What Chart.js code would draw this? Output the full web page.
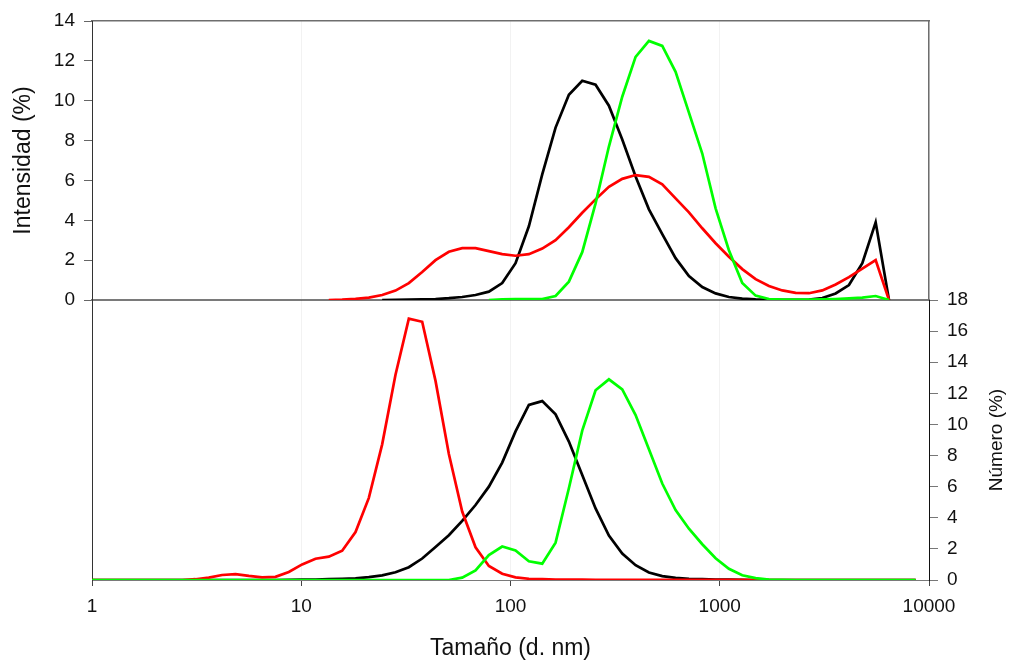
<!DOCTYPE html>
<html>
<head>
<meta charset="utf-8">
<script src="https://cdn.jsdelivr.net/npm/chart.js@4.4.1/dist/chart.umd.min.js"></script>
<style>
  html, body { margin: 0; padding: 0; background: #fff; }
  .panel { position: absolute; left: 0; top: 0; width: 1010px; height: 660px; }
</style>
</head>
<body>
<div class="panel"><canvas id="chart-intensidad"></canvas></div>
<div class="panel"><canvas id="chart-numero"></canvas></div>
<script>
// Clases de tamaño (d. nm) del equipo, escala logarítmica
const tamanos = [
  0.9649, 1.117, 1.294, 1.499, 1.736, 2.010, 2.328, 2.696, 3.122, 3.615, 4.187, 4.849, 5.615, 6.503, 7.531, 8.721,
  10.10, 11.70, 13.54, 15.69, 18.17, 21.04, 24.36, 28.21, 32.67, 37.84, 43.82, 50.75, 58.77, 68.06, 78.82, 91.28,
  105.7, 122.4, 141.8, 164.2, 190.1, 220.2, 255.0, 295.3, 342.0, 396.1, 458.7, 531.2, 615.1, 712.4, 825.0, 955.4,
  1106, 1281, 1484, 1718, 1990, 2305, 2669, 3091, 3580, 4145, 4801, 5560, 6439, 7456, 8635
];

// Distribución por intensidad (%) - null donde no hay curva
const intNegro = [
  null, null, null, null, null, null, null, null, null, null, null, null, null, null, null, null,
  null, null, null, null, null, null, 0, 0.01, 0.02, 0.03, 0.05, 0.09, 0.15, 0.25, 0.42, 0.85,
  1.85, 3.7, 6.3, 8.65, 10.3, 11.0, 10.8, 9.75, 8.05, 6.2, 4.55, 3.3, 2.1, 1.2, 0.65, 0.33,
  0.15, 0.07, 0.03, 0.02, 0.01, 0.01, 0.02, 0.1, 0.33, 0.75, 1.85, 3.9, 0, null, null
];
const intRojo = [
  null, null, null, null, null, null, null, null, null, null, null, null, null, null, null, null,
  null, null, 0, 0.02, 0.06, 0.12, 0.25, 0.47, 0.85, 1.4, 2.0, 2.42, 2.6, 2.6, 2.45, 2.3,
  2.22, 2.3, 2.58, 3.0, 3.65, 4.38, 5.05, 5.68, 6.08, 6.27, 6.18, 5.8, 5.1, 4.4, 3.6, 2.85,
  2.17, 1.55, 1.05, 0.7, 0.48, 0.36, 0.34, 0.48, 0.78, 1.15, 1.58, 2.0, 0, null, null
];
const intVerde = [
  null, null, null, null, null, null, null, null, null, null, null, null, null, null, null, null,
  null, null, null, null, null, null, null, null, null, null, null, null, null, null, 0, 0.03,
  0.05, 0.05, 0.05, 0.2, 0.92, 2.4, 4.85, 7.7, 10.2, 12.2, 13.0, 12.75, 11.45, 9.4, 7.35, 4.6,
  2.5, 0.85, 0.22, 0.05, 0.02, 0.02, 0.02, 0.03, 0.05, 0.08, 0.12, 0.2, 0, null, null
];

// Distribución por número (%)
const numNegro = [
  0, 0, 0, 0, 0, 0, 0, 0, 0, 0, 0, 0, 0, 0, 0, 0.01,
  0.02, 0.03, 0.05, 0.07, 0.1, 0.18, 0.3, 0.5, 0.82, 1.38, 2.12, 2.88, 3.8, 4.82, 6.0, 7.55,
  9.55, 11.25, 11.5, 10.65, 8.9, 6.75, 4.6, 2.85, 1.7, 0.95, 0.48, 0.25, 0.14, 0.08, 0.05, 0.03,
  0.02, 0.01, 0, 0, 0, 0, 0, 0, 0, 0, 0, 0, 0, 0, 0
];
const numRojo = [
  0, 0, 0, 0, 0, 0, 0, 0, 0.05, 0.15, 0.32, 0.38, 0.26, 0.17, 0.2, 0.52,
  1.0, 1.37, 1.5, 1.88, 3.08, 5.28, 8.72, 13.2, 16.8, 16.6, 12.8, 8.1, 4.4, 2.1, 0.9, 0.4,
  0.17, 0.08, 0.05, 0.03, 0.02, 0.02, 0.01, 0.01, 0.01, 0.01, 0.01, 0.01, 0.01, 0.01, 0.01, 0.01,
  0.01, 0.01, 0, 0, 0, 0, 0, 0, 0, 0, 0, 0, 0, 0, 0
];
const numVerde = [
  0, 0, 0, 0, 0, 0, 0, 0, 0, 0, 0, 0, 0, 0, 0, 0,
  0, 0, 0, 0, 0, 0, 0, 0, 0, 0, 0, 0, 0.15, 0.62, 1.6, 2.15,
  1.9, 1.2, 1.05, 2.4, 5.9, 9.6, 12.2, 12.9, 12.25, 10.6, 8.4, 6.2, 4.5, 3.3, 2.3, 1.4,
  0.72, 0.3, 0.12, 0.03, 0.01, 0, 0, 0, 0, 0, 0, 0, 0, 0, 0
];

const ticksX = [1, 10, 100, 1000, 10000];
const ejeIntensidad = { min: 0, max: 14, paso: 2 };
const ejeNumero = { min: 0, max: 18, paso: 2 };

const FUENTE = "'Liberation Sans', Arial, sans-serif";
const fuenteTicks = { family: FUENTE, size: 19 };

function puntos(serie) {
    return tamanos.map((d, i) => ({ x: d, y: serie[i] }));
}

function linea(serie, color) {
    return {
        data: puntos(serie),
        borderColor: color,
        borderWidth: 2.7,
        pointRadius: 0,
        tension: 0,
        fill: false
    };
}

// Solo décadas en el eje logarítmico
function soloDecadas(escala) {
    escala.ticks = ticksX.map(v => ({ value: v }));
}

const gridTenue = { color: 'rgba(0,0,0,0.05)', borderDash: [1, 2], drawTicks: false };

// Título del eje derecho leído de abajo hacia arriba
const tituloDerecho = {
    id: 'tituloDerecho',
    afterDraw(chart) {
        const esc = chart.scales.y;
        const ctx = chart.ctx;
        ctx.save();
        ctx.translate(esc.right - 13, (esc.top + esc.bottom) / 2);
        ctx.rotate(-Math.PI / 2);
        ctx.font = '19px ' + FUENTE;
        ctx.fillStyle = '#111';
        ctx.textAlign = 'center';
        ctx.textBaseline = 'middle';
        ctx.fillText('Número (%)', 0, 0);
        ctx.restore();
    }
};

// Panel superior: intensidad (eje izquierdo)
new Chart(document.getElementById('chart-intensidad'), {
    type: 'line',
    data: {
        // el primero se dibuja encima
        datasets: [linea(intVerde, '#00ff00'), linea(intRojo, '#ff0000'), linea(intNegro, '#000000')]
    },
    options: {
        responsive: true,
        maintainAspectRatio: false,
        animation: false,
        layout: { padding: { left: 0, top: 21, right: 81, bottom: 360 } },
        plugins: { legend: { display: false }, tooltip: { enabled: false } },
        scales: {
            x: {
                type: 'logarithmic', position: 'bottom', min: 1, max: 10000,
                afterBuildTicks: soloDecadas,
                afterFit: s => { s.height = 0; },
                ticks: { display: false },
                grid: gridTenue,
                border: { display: true, color: '#7a7a7a', width: 2 }
            },
            xArriba: {
                type: 'logarithmic', position: 'top', min: 1, max: 10000,
                afterBuildTicks: soloDecadas,
                afterFit: s => { s.height = 0; },
                ticks: { display: false },
                grid: { display: false, drawTicks: false },
                border: { display: true, color: '#6e6e6e', width: 1.5 }
            },
            y: {
                position: 'left', min: ejeIntensidad.min, max: ejeIntensidad.max,
                afterFit: s => { s.width = 92; },
                ticks: { stepSize: ejeIntensidad.paso, font: fuenteTicks, color: '#111', padding: 9 },
                grid: { drawOnChartArea: false, tickLength: 8, tickColor: '#666', color: '#666' },
                border: { display: true, color: '#333', width: 1 },
                title: {
                    display: true, text: 'Intensidad (%)', color: '#111',
                    font: { family: FUENTE, size: 23, lineHeight: 1 },
                    padding: { top: 12, bottom: 0 }
                }
            },
            yDerecha: {
                position: 'right', min: ejeIntensidad.min, max: ejeIntensidad.max,
                afterFit: s => { s.width = 0; },
                ticks: { display: false },
                grid: { display: false, drawTicks: false },
                border: { display: true, color: '#6e6e6e', width: 1.5 }
            }
        }
    }
});

// Panel inferior: número (eje derecho) y eje de tamaños
new Chart(document.getElementById('chart-numero'), {
    type: 'line',
    data: {
        datasets: [linea(numVerde, '#00ff00'), linea(numRojo, '#ff0000'), linea(numNegro, '#000000')]
    },
    options: {
        responsive: true,
        maintainAspectRatio: false,
        animation: false,
        layout: { padding: { left: 92, top: 300, right: 0, bottom: 0 } },
        plugins: { legend: { display: false }, tooltip: { enabled: false } },
        scales: {
            x: {
                type: 'logarithmic', position: 'bottom', min: 1, max: 10000,
                afterBuildTicks: soloDecadas,
                afterFit: s => { s.height = 80; },
                ticks: {
                    font: fuenteTicks, color: '#111', padding: 9, maxRotation: 0,
                    callback: v => String(v)
                },
                grid: { color: 'rgba(0,0,0,0.05)', borderDash: [1, 2], tickLength: 6, tickColor: '#444' },
                border: { display: true, color: '#7a7a7a', width: 1 },
                title: {
                    display: true, text: 'Tamaño (d. nm)', color: '#111',
                    font: { family: FUENTE, size: 23, lineHeight: 1 },
                    padding: { top: 0, bottom: 0 }
                }
            },
            y: {
                position: 'right', min: ejeNumero.min, max: ejeNumero.max,
                afterFit: s => { s.width = 81; },
                ticks: { stepSize: ejeNumero.paso, font: fuenteTicks, color: '#111', padding: 9 },
                grid: { drawOnChartArea: false, tickLength: 9, tickColor: '#777', color: '#777' },
                border: { display: true, color: '#111', width: 1 }
            },
            yIzquierda: {
                position: 'left', min: ejeNumero.min, max: ejeNumero.max,
                afterFit: s => { s.width = 0; },
                ticks: { display: false },
                grid: { display: false, drawTicks: false },
                border: { display: true, color: '#333', width: 1 }
            }
        }
    },
    plugins: [tituloDerecho]
});
</script>
</body>
</html>
